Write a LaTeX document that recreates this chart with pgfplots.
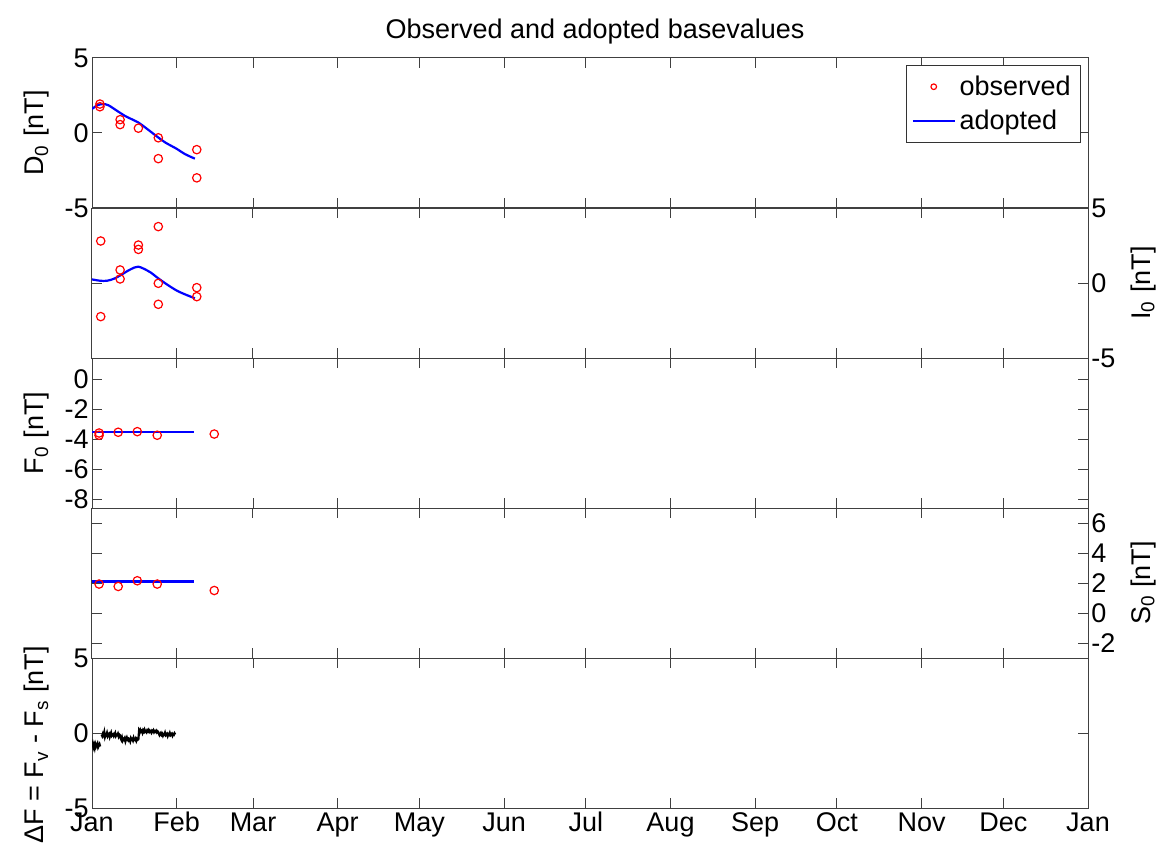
\documentclass[border=0pt]{standalone}
\usepackage{pgfplots}
\pgfplotsset{compat=1.18}
\usepackage{fontspec}
\setmainfont{Liberation Sans}
\newcommand{\fs}{\fontsize{13.5}{16}\selectfont}
\pgfplotsset{
  panel/.style={
    scale only axis, width=498pt, height=75pt, anchor=south west,
    xmin=0, xmax=365,
    xtick={0,31,59,90,120,151,181,212,243,273,304,334,365},
    xticklabels={},
    tick align=inside, major tick length=5pt,
    axis line style={black!75, line width=0.5pt},
    every tick/.style={black!75, line width=0.5pt},
    tick label style={font=\fs, inner sep=1.5pt, black},
    xticklabel style={text height=10pt, text depth=3pt},
    ylabel near ticks,
    ylabel style={font=\fs, yshift=2.5pt},
  },
  rightpanel/.style={yticklabel pos=right, ylabel style={yshift=-5pt}},
  obs/.style={only marks, mark=o, mark size=2.1pt, color=red, mark options={line width=0.6pt},
    legend image code/.code={\draw[red, line width=0.6pt] (10.5pt,0pt) circle (1.4pt);}},
  adp/.style={no marks, blue, line width=1.1pt,
    legend image code/.code={\draw[blue, line width=0.8pt] (0pt,0pt) -- (21pt,0pt);}},
}
\begin{document}
\begin{tikzpicture}
\path[use as bounding box] (0,0) rectangle (580.5pt,421pt);
\node[font=\fs] at (297.5pt,405pt) {Observed and adopted basevalues};

% D0
\begin{axis}[panel, at={(46pt,317pt)},
  ymin=-5, ymax=5, ytick={-5,0,5}, yticklabels={-5,0,5},
  ylabel={D\textsubscript{0} [nT]},
  legend style={at={(0.993,0.953)}, anchor=north east, draw=black!80, font=\fs,
    inner xsep=3pt, inner ysep=3pt, row sep=2pt, legend cell align=left}]
\addplot[obs] coordinates {(2.9,1.93)(2.9,1.75)(10.3,0.89)(10.3,0.56)(17,0.32)
  (24.3,-0.32)(24.3,-1.71)(38.4,-1.11)(38.4,-2.99)};
\addlegendentry{observed}
\addplot[adp, smooth] coordinates {(0,1.6)(2,1.85)(4,1.93)(6,1.85)(9,1.5)(12,1.15)
  (15,0.88)(17,0.7)(20,0.3)(24,-0.26)(27,-0.65)(31,-1.05)(34,-1.4)(37.7,-1.71)};
\addlegendentry{adopted}
\end{axis}

% I0
\begin{axis}[panel, rightpanel, at={(46pt,242pt)},
  ymin=-5, ymax=5, ytick={-5,0,5}, yticklabels={-5,0,5},
  ylabel={I\textsubscript{0} [nT]}]
\addplot[obs] coordinates {(3.2,2.8)(3.2,-2.24)(10.3,0.87)(10.3,0.27)(17,2.53)(17,2.24)
  (24.3,3.76)(24.3,-0.02)(24.3,-1.42)(38.4,-0.31)(38.4,-0.91)};
\addplot[adp, smooth] coordinates {(0,0.24)(3,0.15)(5.5,0.15)(8,0.28)(10.3,0.5)(13,0.8)
  (15.5,1.03)(17,1.09)(19,0.95)(21.5,0.7)(24.3,0.31)(27.5,-0.1)(31,-0.5)(34,-0.75)(37.7,-1.02)};
\end{axis}

% F0
\begin{axis}[panel, at={(46pt,167pt)},
  ymin=-8.6, ymax=1.4, ytick={-8,-6,-4,-2,0}, yticklabels={-8,-6,-4,-2,0},
  ylabel={F\textsubscript{0} [nT]}]
\addplot[obs] coordinates {(2.6,-3.6)(2.6,-3.75)(9.6,-3.55)(16.6,-3.51)(23.9,-3.75)(44.8,-3.67)};
\addplot[adp] coordinates {(0,-3.55)(37.5,-3.55)};
\end{axis}

% S0
\begin{axis}[panel, rightpanel, at={(46pt,92pt)},
  ymin=-3, ymax=7, ytick={-2,0,2,4,6}, yticklabels={-2,0,2,4,6},
  ylabel={S\textsubscript{0} [nT]}]
\addplot[obs] coordinates {(2.6,1.93)(9.6,1.77)(16.6,2.15)(23.9,1.93)(44.8,1.5)};
\addplot[adp] coordinates {(0,2.1)(37.5,2.1)};
\end{axis}

% dF
\begin{axis}[panel, at={(46pt,17pt)},
  ymin=-5, ymax=5, ytick={-5,0,5}, yticklabels={-5,0,5},
  xticklabels={Jan,Feb,Mar,Apr,May,Jun,Jul,Aug,Sep,Oct,Nov,Dec,Jan},
  ylabel={ΔF = F\textsubscript{v} - F\textsubscript{s} [nT]},
  ylabel style={at={(ticklabel cs:0.42)}},
  unbounded coords=jump]
\addplot[black, line width=1.1pt, no marks] coordinates {
(0,-0.85)(0.25,-0.7)(0.5,-0.95)(0.75,-0.8)(1,-1.0)(1.25,-0.75)(1.5,-0.9)(1.75,-0.8)
(2,-0.7)(2.25,-0.95)(2.5,-0.85)(2.75,-0.75)(3,-0.9)(3.2,nan)
(3.5,-0.1)(3.75,-0.2)(4,-0.05)(4.25,-0.15)(4.5,0.05)(4.75,-0.25)(5,-0.1)(5.25,-0.15)
(5.5,0.0)(5.75,-0.2)(6,-0.1)(6.25,-0.05)(6.5,-0.25)(6.75,-0.1)(7,0.02)(7.25,-0.18)
(7.5,-0.12)(7.75,-0.08)(8,-0.2)(8.25,-0.1)(8.5,0.0)(8.75,-0.2)(9,-0.12)(9.25,-0.15)
(9.5,-0.05)(9.75,-0.22)(10,-0.1)(10.25,-0.15)
(10.5,-0.35)(10.75,-0.45)(11,-0.3)(11.25,-0.5)(11.5,-0.4)(11.75,-0.45)(12,-0.35)
(12.25,-0.55)(12.5,-0.4)(12.75,-0.3)(13,-0.45)(13.25,-0.5)(13.5,-0.38)(13.75,-0.42)
(14,-0.55)(14.25,-0.35)(14.5,-0.45)(14.75,-0.4)(15,-0.5)(15.25,-0.32)(15.5,-0.45)
(15.75,-0.48)(16,-0.38)(16.25,-0.52)(16.5,-0.4)(16.75,-0.45)(17,-0.42)
(17.25,0.15)(17.5,0.05)(17.75,0.2)(18,0.1)(18.25,0.15)(18.5,0.02)(18.75,0.18)(19,0.1)
(19.25,0.22)(19.5,0.08)(19.75,0.12)(20,0.05)(20.25,0.18)(20.5,0.12)(20.75,0.2)(21,0.08)
(21.25,0.15)(21.5,0.1)(21.75,0.02)(22,0.15)(22.25,0.1)(22.5,0.18)(22.75,0.05)(23,0.12)
(23.25,0.08)(23.5,0.15)(23.75,0.05)(24,0.12)(24.25,0.08)
(24.5,-0.05)(24.75,-0.15)(25,-0.08)(25.25,0.0)(25.5,-0.12)(25.75,-0.05)(26,-0.18)
(26.25,-0.08)(26.5,-0.1)(26.75,0.02)(27,-0.15)(27.25,-0.1)(27.5,-0.05)(27.75,-0.2)
(28,-0.08)(28.25,-0.12)(28.5,0.0)(28.75,-0.15)(29,-0.1)(29.25,-0.05)(29.5,-0.18)
(29.75,-0.08)(30,-0.12)(30.25,-0.02)(30.5,-0.1)};
\end{axis}
\end{tikzpicture}
\end{document}
